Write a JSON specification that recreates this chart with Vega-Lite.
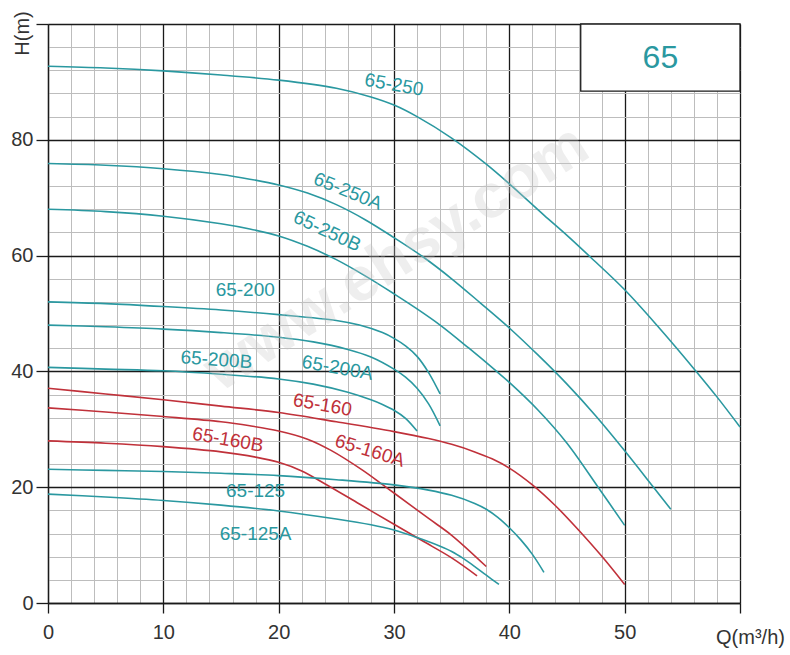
{
  "$schema": "https://vega.github.io/schema/vega-lite/v6.json",
  "width": 692,
  "height": 579,
  "autosize": {"type": "none"},
  "padding": {"left": 48, "top": 24, "right": 50, "bottom": 52},
  "background": "white",
  "config": {"view": {"stroke": null}, "font": "Liberation Sans", "text": {"font": "Liberation Sans"}},
  "datasets": {
    "curves": [
      {"curve": "65-250", "q": 0, "h": 92.7}, {"curve": "65-250", "q": 5, "h": 92.4}, {"curve": "65-250", "q": 10, "h": 91.9}, {"curve": "65-250", "q": 15, "h": 91.2}, {"curve": "65-250", "q": 20, "h": 90.3}, {"curve": "65-250", "q": 25, "h": 88.9}, {"curve": "65-250", "q": 28, "h": 87.4}, {"curve": "65-250", "q": 30, "h": 86.0}, {"curve": "65-250", "q": 32, "h": 84.0}, {"curve": "65-250", "q": 35, "h": 80.3}, {"curve": "65-250", "q": 38, "h": 75.8}, {"curve": "65-250", "q": 40, "h": 72.4}, {"curve": "65-250", "q": 43, "h": 67.0}, {"curve": "65-250", "q": 45, "h": 63.5}, {"curve": "65-250", "q": 47, "h": 59.8}, {"curve": "65-250", "q": 50, "h": 54.1}, {"curve": "65-250", "q": 53, "h": 47.5}, {"curve": "65-250", "q": 56.2, "h": 40.0}, {"curve": "65-250", "q": 58, "h": 35.6}, {"curve": "65-250", "q": 60, "h": 30.4},
      {"curve": "65-250A", "q": 0, "h": 75.9}, {"curve": "65-250A", "q": 5, "h": 75.6}, {"curve": "65-250A", "q": 10, "h": 75.0}, {"curve": "65-250A", "q": 15, "h": 74.0}, {"curve": "65-250A", "q": 17.5, "h": 73.2}, {"curve": "65-250A", "q": 20, "h": 72.2}, {"curve": "65-250A", "q": 22.5, "h": 70.8}, {"curve": "65-250A", "q": 25, "h": 68.8}, {"curve": "65-250A", "q": 27.5, "h": 66.2}, {"curve": "65-250A", "q": 30, "h": 63.1}, {"curve": "65-250A", "q": 32.5, "h": 59.8}, {"curve": "65-250A", "q": 35, "h": 56.0}, {"curve": "65-250A", "q": 37.5, "h": 51.8}, {"curve": "65-250A", "q": 40, "h": 47.5}, {"curve": "65-250A", "q": 42.5, "h": 42.8}, {"curve": "65-250A", "q": 45, "h": 37.8}, {"curve": "65-250A", "q": 47.5, "h": 32.3}, {"curve": "65-250A", "q": 50, "h": 26.3}, {"curve": "65-250A", "q": 52.5, "h": 20.0}, {"curve": "65-250A", "q": 54, "h": 16.2},
      {"curve": "65-250B", "q": 0, "h": 68.0}, {"curve": "65-250B", "q": 5, "h": 67.6}, {"curve": "65-250B", "q": 10, "h": 66.8}, {"curve": "65-250B", "q": 15, "h": 65.5}, {"curve": "65-250B", "q": 17.5, "h": 64.6}, {"curve": "65-250B", "q": 20, "h": 63.4}, {"curve": "65-250B", "q": 22.5, "h": 61.6}, {"curve": "65-250B", "q": 25, "h": 59.3}, {"curve": "65-250B", "q": 27.5, "h": 56.5}, {"curve": "65-250B", "q": 30, "h": 53.4}, {"curve": "65-250B", "q": 32, "h": 50.8}, {"curve": "65-250B", "q": 34, "h": 48.0}, {"curve": "65-250B", "q": 36.5, "h": 44.0}, {"curve": "65-250B", "q": 38.9, "h": 40.0}, {"curve": "65-250B", "q": 40, "h": 38.1}, {"curve": "65-250B", "q": 42.5, "h": 33.3}, {"curve": "65-250B", "q": 45, "h": 27.6}, {"curve": "65-250B", "q": 47.7, "h": 20.0}, {"curve": "65-250B", "q": 50, "h": 13.4},
      {"curve": "65-200", "q": 0, "h": 52.0}, {"curve": "65-200", "q": 5, "h": 51.7}, {"curve": "65-200", "q": 10, "h": 51.2}, {"curve": "65-200", "q": 15, "h": 50.6}, {"curve": "65-200", "q": 20, "h": 49.8}, {"curve": "65-200", "q": 25, "h": 48.8}, {"curve": "65-200", "q": 27, "h": 48.0}, {"curve": "65-200", "q": 29, "h": 46.7}, {"curve": "65-200", "q": 30, "h": 45.7}, {"curve": "65-200", "q": 31, "h": 44.4}, {"curve": "65-200", "q": 32, "h": 42.6}, {"curve": "65-200", "q": 33, "h": 39.8}, {"curve": "65-200", "q": 34, "h": 36.1},
      {"curve": "65-200A", "q": 0, "h": 48.0}, {"curve": "65-200A", "q": 5, "h": 47.7}, {"curve": "65-200A", "q": 10, "h": 47.3}, {"curve": "65-200A", "q": 15, "h": 46.7}, {"curve": "65-200A", "q": 20, "h": 45.9}, {"curve": "65-200A", "q": 23, "h": 45.1}, {"curve": "65-200A", "q": 26, "h": 43.8}, {"curve": "65-200A", "q": 28, "h": 42.5}, {"curve": "65-200A", "q": 30, "h": 40.4}, {"curve": "65-200A", "q": 31, "h": 39.0}, {"curve": "65-200A", "q": 32, "h": 37.1}, {"curve": "65-200A", "q": 33, "h": 34.4}, {"curve": "65-200A", "q": 34, "h": 30.6},
      {"curve": "65-200B", "q": 0, "h": 40.7}, {"curve": "65-200B", "q": 5, "h": 40.4}, {"curve": "65-200B", "q": 10, "h": 40.1}, {"curve": "65-200B", "q": 15, "h": 39.5}, {"curve": "65-200B", "q": 20, "h": 38.7}, {"curve": "65-200B", "q": 23, "h": 37.8}, {"curve": "65-200B", "q": 26, "h": 36.4}, {"curve": "65-200B", "q": 28, "h": 35.1}, {"curve": "65-200B", "q": 29, "h": 34.3}, {"curve": "65-200B", "q": 30, "h": 33.3}, {"curve": "65-200B", "q": 31, "h": 31.9}, {"curve": "65-200B", "q": 32, "h": 29.7},
      {"curve": "65-160", "q": 0, "h": 37.1}, {"curve": "65-160", "q": 5, "h": 36.1}, {"curve": "65-160", "q": 10, "h": 35.1}, {"curve": "65-160", "q": 15, "h": 34.0}, {"curve": "65-160", "q": 20, "h": 32.9}, {"curve": "65-160", "q": 25, "h": 31.3}, {"curve": "65-160", "q": 30, "h": 29.6}, {"curve": "65-160", "q": 33, "h": 28.4}, {"curve": "65-160", "q": 35, "h": 27.4}, {"curve": "65-160", "q": 37, "h": 26.1}, {"curve": "65-160", "q": 38.5, "h": 24.9}, {"curve": "65-160", "q": 40, "h": 23.3}, {"curve": "65-160", "q": 42, "h": 20.4}, {"curve": "65-160", "q": 44, "h": 16.8}, {"curve": "65-160", "q": 46, "h": 12.6}, {"curve": "65-160", "q": 48, "h": 8.1}, {"curve": "65-160", "q": 50, "h": 3.2},
      {"curve": "65-160A", "q": 0, "h": 33.7}, {"curve": "65-160A", "q": 5, "h": 33.0}, {"curve": "65-160A", "q": 10, "h": 32.2}, {"curve": "65-160A", "q": 15, "h": 31.3}, {"curve": "65-160A", "q": 17.5, "h": 30.6}, {"curve": "65-160A", "q": 20, "h": 29.7}, {"curve": "65-160A", "q": 22.5, "h": 28.3}, {"curve": "65-160A", "q": 24.5, "h": 26.4}, {"curve": "65-160A", "q": 27.3, "h": 22.9}, {"curve": "65-160A", "q": 29.1, "h": 20.3}, {"curve": "65-160A", "q": 30, "h": 19.0}, {"curve": "65-160A", "q": 33, "h": 14.6}, {"curve": "65-160A", "q": 35, "h": 11.7}, {"curve": "65-160A", "q": 38, "h": 6.3},
      {"curve": "65-160B", "q": 0, "h": 28.0}, {"curve": "65-160B", "q": 5, "h": 27.6}, {"curve": "65-160B", "q": 10, "h": 27.0}, {"curve": "65-160B", "q": 15, "h": 26.1}, {"curve": "65-160B", "q": 18, "h": 25.2}, {"curve": "65-160B", "q": 20, "h": 24.3}, {"curve": "65-160B", "q": 22, "h": 22.8}, {"curve": "65-160B", "q": 24, "h": 20.6}, {"curve": "65-160B", "q": 27, "h": 17.1}, {"curve": "65-160B", "q": 30, "h": 13.6}, {"curve": "65-160B", "q": 32.5, "h": 10.7}, {"curve": "65-160B", "q": 35, "h": 7.8}, {"curve": "65-160B", "q": 37.2, "h": 4.7},
      {"curve": "65-125", "q": 0, "h": 23.1}, {"curve": "65-125", "q": 5, "h": 22.9}, {"curve": "65-125", "q": 10, "h": 22.7}, {"curve": "65-125", "q": 15, "h": 22.4}, {"curve": "65-125", "q": 20, "h": 22.0}, {"curve": "65-125", "q": 25, "h": 21.3}, {"curve": "65-125", "q": 30, "h": 20.4}, {"curve": "65-125", "q": 33, "h": 19.5}, {"curve": "65-125", "q": 35, "h": 18.6}, {"curve": "65-125", "q": 37, "h": 17.2}, {"curve": "65-125", "q": 38, "h": 16.2}, {"curve": "65-125", "q": 39, "h": 14.8}, {"curve": "65-125", "q": 40, "h": 13.0}, {"curve": "65-125", "q": 41, "h": 10.9}, {"curve": "65-125", "q": 42, "h": 8.4}, {"curve": "65-125", "q": 43, "h": 5.3},
      {"curve": "65-125A", "q": 0, "h": 18.8}, {"curve": "65-125A", "q": 5, "h": 18.3}, {"curve": "65-125A", "q": 10, "h": 17.7}, {"curve": "65-125A", "q": 15, "h": 16.9}, {"curve": "65-125A", "q": 20, "h": 15.9}, {"curve": "65-125A", "q": 25, "h": 14.5}, {"curve": "65-125A", "q": 28, "h": 13.5}, {"curve": "65-125A", "q": 30, "h": 12.6}, {"curve": "65-125A", "q": 32, "h": 11.3}, {"curve": "65-125A", "q": 34, "h": 9.8}, {"curve": "65-125A", "q": 35, "h": 8.9}, {"curve": "65-125A", "q": 36, "h": 7.7}, {"curve": "65-125A", "q": 37, "h": 6.3}, {"curve": "65-125A", "q": 38, "h": 4.8}, {"curve": "65-125A", "q": 39.1, "h": 3.2}
    ],
    "labels": [
      {"curve": "65-250", "q": 30.0, "h": 89.5},
      {"curve": "65-250A", "q": 26.0, "h": 71.1},
      {"curve": "65-250B", "q": 24.2, "h": 64.2},
      {"curve": "65-200", "q": 17.1, "h": 54.1},
      {"curve": "65-200B", "q": 14.6, "h": 42.0},
      {"curve": "65-200A", "q": 25.1, "h": 40.6},
      {"curve": "65-160", "q": 23.8, "h": 34.2},
      {"curve": "65-160A", "q": 27.9, "h": 26.3},
      {"curve": "65-160B", "q": 15.6, "h": 28.2},
      {"curve": "65-125", "q": 18.0, "h": 19.3},
      {"curve": "65-125A", "q": 18.0, "h": 12.0}
    ],
    "box": [{"title": "65", "q1": 46.19, "q2": 60, "h1": 88.4, "h2": 100, "qc": 53.1, "hc": 94.2}],
    "mark": [{"text": "www.ehsy.com", "q": 30.2, "h": 59.6}]
  },
  "layer": [
    {
      "data": {"name": "curves"},
      "mark": {"type": "line", "interpolate": "catmull-rom", "strokeWidth": 1.6},
      "encoding": {
        "x": {
          "field": "q", "type": "quantitative",
          "scale": {"domain": [0, 60], "nice": false, "zero": false},
          "axis": {
            "values": [0, 2, 4, 6, 8, 10, 12, 14, 16, 18, 20, 22, 24, 26, 28, 30, 32, 34, 36, 38, 40, 42, 44, 46, 48, 50, 52, 54, 56, 58, 60],
            "tickCount": 31,
            "format": "d",
            "grid": true,
            "gridColor": {"condition": {"test": "datum.value % 10 === 0", "value": "#1a1a1a"}, "value": "#bdbdbd"},
            "gridWidth": {"condition": {"test": "datum.value % 10 === 0", "value": 1.3}, "value": 1},
            "domain": true, "domainColor": "#1a1a1a", "domainWidth": 1.3,
            "ticks": true, "tickSize": 10, "tickColor": "#1a1a1a", "tickWidth": 1.3,
            "tickOpacity": {"condition": {"test": "datum.value % 10 === 0", "value": 1}, "value": 0},
            "labelExpr": "datum.value % 10 === 0 && datum.value < 60 ? datum.label : ''",
            "labelOverlap": false, "labelFlush": false,
            "labelFontSize": 20, "labelColor": "#333333", "labelPadding": 9, "labelFont": "Liberation Sans",
            "title": "Q(m³/h)", "titleX": 702, "titleY": 34, "titleAlign": "center", "titleBaseline": "middle",
            "titleFontSize": 20, "titleFontWeight": "normal", "titleColor": "#333333", "titleFont": "Liberation Sans"
          }
        },
        "y": {
          "field": "h", "type": "quantitative",
          "scale": {"domain": [0, 100], "nice": false, "zero": false},
          "axis": {
            "values": [0, 4, 8, 12, 16, 20, 24, 28, 32, 36, 40, 44, 48, 52, 56, 60, 64, 68, 72, 76, 80, 84, 88, 92, 96, 100],
            "tickCount": 26,
            "format": "d",
            "grid": true,
            "gridColor": {"condition": {"test": "datum.value % 20 === 0", "value": "#1a1a1a"}, "value": "#bdbdbd"},
            "gridWidth": {"condition": {"test": "datum.value % 20 === 0", "value": 1.3}, "value": 1},
            "domain": true, "domainColor": "#1a1a1a", "domainWidth": 1.3,
            "ticks": true, "tickSize": 12, "tickColor": "#1a1a1a", "tickWidth": 1.3,
            "tickOpacity": {"condition": {"test": "datum.value % 20 === 0", "value": 1}, "value": 0},
            "labelExpr": "datum.value % 20 === 0 && datum.value < 100 ? datum.label : ''",
            "labelOverlap": false, "labelFlush": false,
            "labelFontSize": 20, "labelColor": "#333333", "labelPadding": 3, "labelFont": "Liberation Sans",
            "title": "H(m)", "titleX": -26, "titleY": 9, "titleAngle": 270, "titleAlign": "center", "titleBaseline": "middle",
            "titleFontSize": 20, "titleFontWeight": "normal", "titleColor": "#333333", "titleFont": "Liberation Sans"
          }
        },
        "color": {
          "field": "curve", "type": "nominal", "legend": null,
          "scale": {
            "domain": ["65-250", "65-250A", "65-250B", "65-200", "65-200A", "65-200B", "65-160", "65-160A", "65-160B", "65-125", "65-125A"],
            "range": ["#2a98a0", "#2a98a0", "#2a98a0", "#2a98a0", "#2a98a0", "#2a98a0", "#c0313a", "#c0313a", "#c0313a", "#2a98a0", "#2a98a0"]
          }
        }
      }
    },
    {
      "data": {"name": "mark"},
      "mark": {"type": "text", "angle": -32.5, "fontSize": 62, "fontWeight": "bold", "font": "Liberation Sans", "color": "#c8c8c8", "opacity": 0.3, "align": "center", "baseline": "middle"},
      "encoding": {"x": {"field": "q", "type": "quantitative"}, "y": {"field": "h", "type": "quantitative"}, "text": {"field": "text"}}
    },
    {
      "data": {"name": "labels"},
      "transform": [{"filter": {"field": "curve", "oneOf": ["65-200", "65-125", "65-125A"]}}],
      "mark": {"type": "text", "fontSize": 19, "angle": 0, "align": "center", "baseline": "middle", "font": "Liberation Sans"},
      "encoding": {"x": {"field": "q", "type": "quantitative"}, "y": {"field": "h", "type": "quantitative"}, "text": {"field": "curve"}, "color": {"field": "curve", "type": "nominal", "legend": null}}
    },
    {
      "data": {"name": "labels"},
      "transform": [{"filter": {"field": "curve", "oneOf": ["65-200B"]}}],
      "mark": {"type": "text", "fontSize": 19, "angle": 4, "align": "center", "baseline": "middle", "font": "Liberation Sans"},
      "encoding": {"x": {"field": "q", "type": "quantitative"}, "y": {"field": "h", "type": "quantitative"}, "text": {"field": "curve"}, "color": {"field": "curve", "type": "nominal", "legend": null}}
    },
    {
      "data": {"name": "labels"},
      "transform": [{"filter": {"field": "curve", "oneOf": ["65-250", "65-160", "65-160B", "65-200A"]}}],
      "mark": {"type": "text", "fontSize": 19, "angle": 10, "align": "center", "baseline": "middle", "font": "Liberation Sans"},
      "encoding": {"x": {"field": "q", "type": "quantitative"}, "y": {"field": "h", "type": "quantitative"}, "text": {"field": "curve"}, "color": {"field": "curve", "type": "nominal", "legend": null}}
    },
    {
      "data": {"name": "labels"},
      "transform": [{"filter": {"field": "curve", "oneOf": ["65-160A"]}}],
      "mark": {"type": "text", "fontSize": 19, "angle": 17, "align": "center", "baseline": "middle", "font": "Liberation Sans"},
      "encoding": {"x": {"field": "q", "type": "quantitative"}, "y": {"field": "h", "type": "quantitative"}, "text": {"field": "curve"}, "color": {"field": "curve", "type": "nominal", "legend": null}}
    },
    {
      "data": {"name": "labels"},
      "transform": [{"filter": {"field": "curve", "oneOf": ["65-250A"]}}],
      "mark": {"type": "text", "fontSize": 19, "angle": 22, "align": "center", "baseline": "middle", "font": "Liberation Sans"},
      "encoding": {"x": {"field": "q", "type": "quantitative"}, "y": {"field": "h", "type": "quantitative"}, "text": {"field": "curve"}, "color": {"field": "curve", "type": "nominal", "legend": null}}
    },
    {
      "data": {"name": "labels"},
      "transform": [{"filter": {"field": "curve", "oneOf": ["65-250B"]}}],
      "mark": {"type": "text", "fontSize": 19, "angle": 25, "align": "center", "baseline": "middle", "font": "Liberation Sans"},
      "encoding": {"x": {"field": "q", "type": "quantitative"}, "y": {"field": "h", "type": "quantitative"}, "text": {"field": "curve"}, "color": {"field": "curve", "type": "nominal", "legend": null}}
    },
    {
      "data": {"name": "box"},
      "mark": {"type": "rect", "fill": "white", "stroke": "#1a1a1a", "strokeWidth": 1.3},
      "encoding": {"x": {"field": "q1", "type": "quantitative"}, "x2": {"field": "q2"}, "y": {"field": "h1", "type": "quantitative"}, "y2": {"field": "h2"}}
    },
    {
      "data": {"name": "box"},
      "mark": {"type": "text", "fontSize": 32, "color": "#2a98a0", "align": "center", "baseline": "middle", "font": "Liberation Sans"},
      "encoding": {"x": {"field": "qc", "type": "quantitative"}, "y": {"field": "hc", "type": "quantitative"}, "text": {"field": "title"}}
    }
  ]
}
